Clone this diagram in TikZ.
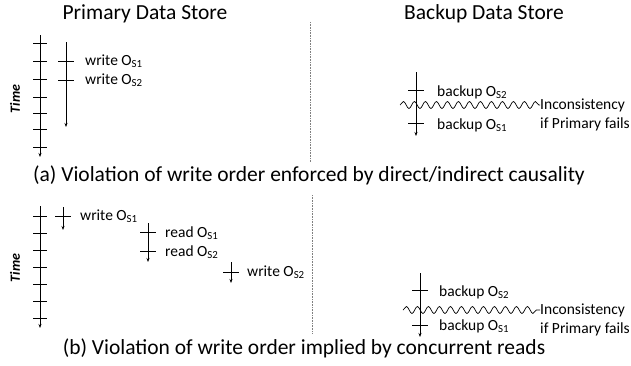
\documentclass[tikz,border=0pt]{standalone}
\usepackage{fontspec}
\setmainfont{Carlito}
\usetikzlibrary{arrows.meta, positioning, decorations.pathmorphing}

\begin{document}
\begin{tikzpicture}[x=1pt, y=-1pt, >={Stealth[length=4pt, width=3pt]},
  timeline/.style={->, line width=0.7pt},
  tickmark/.style={line width=0.7pt},
  lbl/.style={anchor=west, inner sep=0pt, font=\fontsize{15.5}{17}\selectfont},
  header/.style={inner sep=0pt, font=\fontsize{21.5}{24}\selectfont},
  timelbl/.style={rotate=90, inner sep=0pt, font=\fontsize{14}{16}\selectfont\bfseries\itshape},
  wave/.style={decorate, decoration={snake, amplitude=3.5pt, segment length=11pt}, line width=0.7pt},
  sep/.style={densely dotted, gray, line width=0.6pt}]
  \useasboundingbox (0,0) rectangle (631,365);

  % column headers
  \node[header] (primT) at (145,14) {Primary Data Store};
  \node[header] (backT) at (484,14) {Backup Data Store};

  % (a) primary side
  \node[timelbl] (timeA) at (15,99) {Time};
  \coordinate (axA0) at (40,35);
  \coordinate (axA1) at (40,157);
  \draw[timeline] (axA0) -- (axA1);
  \foreach \y in {43,61,79,97,113,129,147}
    \draw[tickmark] (33,\y) -- (47,\y);

  \coordinate (wA0) at (66,42);
  \coordinate (wA1) at (66,127);
  \draw[timeline] (wA0) -- (wA1);
  \draw[tickmark] (58,61) -- (74,61);
  \draw[tickmark] (58,80) -- (74,80);
  \node[lbl] (wAs1) at (85,61) {write O\textsubscript{S1}};
  \node[lbl] (wAs2) at (85,80) {write O\textsubscript{S2}};

  \coordinate (sepA0) at (310,22);
  \coordinate (sepA1) at (310,162);
  \draw[sep] (sepA0) -- (sepA1);

  % (a) backup side
  \coordinate (bA0) at (416,72);
  \coordinate (bA1) at (416,136);
  \draw[timeline] (bA0) -- (bA1);
  \draw[tickmark] (408,90) -- (424,90);
  \draw[tickmark] (408,123) -- (424,123);
  \node[lbl] (bAs2) at (437,92) {backup O\textsubscript{S2}};
  \node[lbl] (bAs1) at (437,125) {backup O\textsubscript{S1}};
  \coordinate (wvA0) at (400,105);
  \node[lbl] (incA) at (540,105) {Inconsistency};
  \node[lbl] (failA) at (540,124) {if Primary fails};
  \draw[wave] (wvA0) -- (incA.west);

  \node[header] (capA) at (309,175) {(a) Violation of write order enforced by direct/indirect causality};

  % (b) primary side
  \node[timelbl] (timeB) at (15,268) {Time};
  \coordinate (axB0) at (40,206);
  \coordinate (axB1) at (40,328);
  \draw[timeline] (axB0) -- (axB1);
  \foreach \y in {216,233,250,267,284,301,318}
    \draw[tickmark] (33,\y) -- (47,\y);

  \coordinate (wB0) at (63,207);
  \coordinate (wB1) at (63,230);
  \draw[timeline] (wB0) -- (wB1);
  \draw[tickmark] (55,216) -- (71,216);
  \node[lbl] (wBs1) at (80,216) {write O\textsubscript{S1}};

  \coordinate (rB0) at (148,223);
  \coordinate (rB1) at (148,262);
  \draw[timeline] (rB0) -- (rB1);
  \draw[tickmark] (140,232) -- (156,232);
  \draw[tickmark] (140,251) -- (156,251);
  \node[lbl] (rBs1) at (165,233) {read O\textsubscript{S1}};
  \node[lbl] (rBs2) at (165,252) {read O\textsubscript{S2}};

  \coordinate (wC0) at (231,262);
  \coordinate (wC1) at (231,283);
  \draw[timeline] (wC0) -- (wC1);
  \draw[tickmark] (223,272) -- (239,272);
  \node[lbl] (wCs2) at (247,272) {write O\textsubscript{S2}};

  \coordinate (sepB0) at (312,195);
  \coordinate (sepB1) at (312,333);
  \draw[sep] (sepB0) -- (sepB1);

  % (b) backup side
  \coordinate (bB0) at (420,273);
  \coordinate (bB1) at (420,337);
  \draw[timeline] (bB0) -- (bB1);
  \draw[tickmark] (412,290) -- (428,290);
  \draw[tickmark] (412,325) -- (428,325);
  \node[lbl] (bBs2) at (439,292) {backup O\textsubscript{S2}};
  \node[lbl] (bBs1) at (439,326) {backup O\textsubscript{S1}};
  \coordinate (wvB0) at (403,310);
  \node[lbl] (incB) at (540,310) {Inconsistency};
  \node[lbl] (failB) at (540,329) {if Primary fails};
  \draw[wave] (wvB0) -- (incB.west);

  \node[header] (capB) at (304,348) {(b) Violation of write order implied by concurrent reads};
\end{tikzpicture}
\end{document}
